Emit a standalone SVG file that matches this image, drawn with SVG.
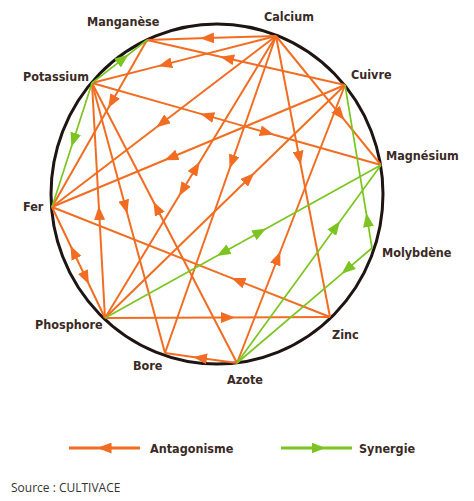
<svg xmlns="http://www.w3.org/2000/svg" width="474" height="501" viewBox="0 0 474 501">
<style>
.lbl{font-family:"DejaVu Sans Condensed","DejaVu Sans",sans-serif;font-weight:bold;font-size:12.5px;fill:#3a2a26}
.ant{fill:none;stroke:#F26D21;stroke-width:2;marker-mid:url(#ma)}
.syn{fill:none;stroke:#7CC520;stroke-width:1.7;marker-mid:url(#ms)}
.src{font-family:"Open Sans","Liberation Sans",sans-serif;font-size:12px;fill:#333}
</style>
<defs>
<marker id="ma" viewBox="0 0 14 11" markerUnits="userSpaceOnUse" markerWidth="14" markerHeight="11" refX="7" refY="5.5" orient="auto"><path d="M0,0 L14,5.5 L0,11 Z" fill="#F26D21"/></marker>
<marker id="ms" viewBox="0 0 14 11" markerUnits="userSpaceOnUse" markerWidth="14" markerHeight="11" refX="7" refY="5.5" orient="auto"><path d="M0,0 L14,5.5 L0,11 Z" fill="#7CC520"/></marker>
</defs>
<rect width="474" height="501" fill="#fff"/>
<ellipse id="circle" cx="217" cy="194" rx="166" ry="170" fill="none" stroke="#1e1412" stroke-width="3"/>
<g id="connectors">
<path class="ant" d="M276,36 L207,38.1 L147,40"/>
<path class="ant" d="M276,36 L165,64.4 L92,83"/>
<path class="ant" d="M345,85 L227,58.2 L147,40"/>
<path class="ant" d="M147,40 L111.7,102 L52,207"/>
<path class="ant" d="M276,36 L162,123 L52,207"/>
<path class="ant" d="M237,124.1 L207,115.6 L92,83"/>
<path class="ant" d="M237,124.1 L267,132.7 L381,165"/>
<path class="ant" d="M345,85 L171,157.5 L52,207"/>
<path class="ant" d="M276,36 L340,114.6 L381,165"/>
<path class="ant" d="M276,36 L299.4,158 L330,317"/>
<path class="ant" d="M276,36 L231.9,162 L165,353"/>
<path class="ant" d="M189.3,179 L196,168 L276,36"/>
<path class="ant" d="M189.3,179 L182.6,190 L105,318"/>
<path class="ant" d="M105,318 L249.2,178 L345,85"/>
<path class="ant" d="M105,318 L99.2,213 L92,83"/>
<path class="ant" d="M92,83 L125.5,207 L165,353"/>
<path class="ant" d="M237,363 L156.7,208 L92,83"/>
<path class="ant" d="M79.7,265 L73.5,252 L52,207"/>
<path class="ant" d="M79.7,265 L85.9,278 L105,318"/>
<path class="ant" d="M330,317 L238,280.6 L52,207"/>
<path class="ant" d="M237,363 L277.8,258 L345,85"/>
<path class="ant" d="M105,318 L228,317.5 L330,317"/>
<path class="ant" d="M237,363 L200,357.9 L165,353"/>
<path class="syn" d="M92,83 L123,58.8 L147,40"/>
<path class="syn" d="M92,83 L73.6,140 L52,207"/>
<path class="syn" d="M241.5,242.3 L260,232 L381,165"/>
<path class="syn" d="M241.5,242.3 L223,252.6 L105,318"/>
<path class="syn" d="M372,248 L367.4,220 L345,85"/>
<path class="syn" d="M372,248 L347,269.3 L237,363"/>
<path class="syn" d="M237,363 L335.9,227 L381,165"/>
</g>
<g id="n-calcium"><text class="lbl" x="264" y="21">Calcium</text></g>
<g id="n-manganese"><text class="lbl" x="87" y="26">Manganèse</text></g>
<g id="n-potassium"><text class="lbl" x="23" y="81">Potassium</text></g>
<g id="n-cuivre"><text class="lbl" x="351" y="79">Cuivre</text></g>
<g id="n-magnesium"><text class="lbl" x="386" y="160">Magnésium</text></g>
<g id="n-fer"><text class="lbl" x="23" y="211">Fer</text></g>
<g id="n-molybdene"><text class="lbl" x="382" y="257">Molybdène</text></g>
<g id="n-phosphore"><text class="lbl" x="35" y="329">Phosphore</text></g>
<g id="n-zinc"><text class="lbl" x="332" y="339">Zinc</text></g>
<g id="n-bore"><text class="lbl" x="133" y="370">Bore</text></g>
<g id="n-azote"><text class="lbl" x="227" y="384">Azote</text></g>
<g id="legend">
<path class="ant" style="stroke-width:3" d="M140,448 L104.5,448 L69,448"/>
<text class="lbl" x="150" y="453">Antagonisme</text>
<path class="syn" style="stroke-width:3" d="M281,448 L318.5,448 L352,448"/>
<text class="lbl" x="359" y="453">Synergie</text>
</g>
<text class="src" x="11" y="492">Source : CULTIVACE</text>
</svg>
